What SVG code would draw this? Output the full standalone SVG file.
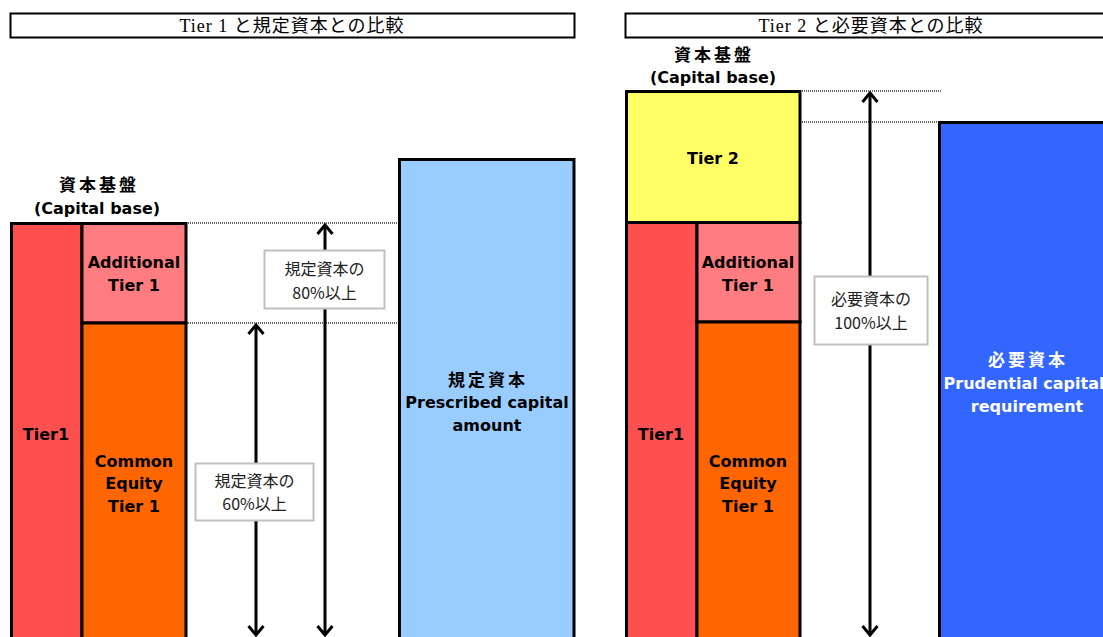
<svg xmlns="http://www.w3.org/2000/svg" width="1103" height="637" viewBox="0 0 1103 637">
<style>
.title{fill:#fff;stroke:#000;stroke-width:2}
.tt{font-family:"Liberation Serif","Noto Sans CJK JP",serif;font-size:18px;letter-spacing:1px;text-anchor:middle;fill:#000}
.blk{stroke:#000;stroke-width:3}
.b{font-family:"DejaVu Sans","Noto Sans CJK JP",sans-serif;font-weight:bold;font-size:16px;text-anchor:middle;fill:#000}
.jp{font-size:17px;letter-spacing:3px}
.w{fill:#fff}
.lbl{fill:#fff;stroke:#c0c0c0;stroke-width:2}
.lt{font-family:"Noto Sans CJK JP",sans-serif;font-size:16px;text-anchor:middle;fill:#222}
.dot{stroke:#333;stroke-width:1.5;stroke-dasharray:1 1}
.arr{stroke:#000;stroke-width:3;fill:none;marker-start:url(#ah);marker-end:url(#ah)}
</style>
<defs>
<marker id="ah" viewBox="-12 -10 14 20" markerWidth="14" markerHeight="20" markerUnits="userSpaceOnUse" refX="0" refY="0" orient="auto-start-reverse">
<path d="M-9,-7.5 L0,0 L-9,7.5" fill="none" stroke="#000" stroke-width="3"/>
</marker>
</defs>

<g id="title-left">
<rect class="title" x="10.5" y="13.5" width="564" height="24"/>
<text class="tt" x="292" y="32">Tier 1 と規定資本との比較</text>
</g>
<g id="title-right">
<rect class="title" x="625.5" y="13.5" width="492" height="24"/>
<text class="tt" x="871" y="32">Tier 2 と必要資本との比較</text>
</g>

<g id="capital-base-left">
<text class="b jp" x="99" y="191">資本基盤</text>
<text class="b" x="97" y="214">(Capital base)</text>
</g>
<g id="capital-base-right">
<text class="b jp" x="714" y="61">資本基盤</text>
<text class="b" x="713" y="83">(Capital base)</text>
</g>

<g id="connectors">
<line class="dot" x1="186" y1="223" x2="398" y2="223"/>
<line class="dot" x1="186" y1="323" x2="398" y2="323"/>
<line class="dot" x1="800" y1="91" x2="942" y2="91"/>
<line class="dot" x1="800" y1="122" x2="938" y2="122"/>
<line class="arr" x1="256" y1="635" x2="256" y2="325"/>
<line class="arr" x1="325" y1="635" x2="325" y2="225"/>
<line class="arr" x1="870" y1="635" x2="870" y2="93"/>
</g>

<g id="tier1-left">
<rect class="blk" x="11.5" y="223.5" width="70.5" height="420" fill="#FF5050"/>
<text class="b" x="46" y="440">Tier1</text>
</g>
<g id="at1-left">
<rect class="blk" x="82" y="223.5" width="104" height="99.5" fill="#FF7C80"/>
<text class="b" x="134" y="268">Additional</text>
<text class="b" x="134" y="291">Tier 1</text>
</g>
<g id="cet1-left">
<rect class="blk" x="82" y="323" width="104" height="320" fill="#FF6600"/>
<text class="b" x="134" y="467">Common</text>
<text class="b" x="134" y="489">Equity</text>
<text class="b" x="134" y="512">Tier 1</text>
</g>
<g id="prescribed">
<rect class="blk" x="399.5" y="159.5" width="174.5" height="480" fill="#99CCFF"/>
<text class="b jp" x="488" y="386">規定資本</text>
<text class="b" x="487" y="408">Prescribed capital</text>
<text class="b" x="487" y="431">amount</text>
</g>
<g id="label-80">
<rect class="lbl" x="264.5" y="250.5" width="120" height="58"/>
<text class="lt" x="324.5" y="275">規定資本の</text>
<text class="lt" x="324.5" y="299">80%以上</text>
</g>
<g id="label-60">
<rect class="lbl" x="195.5" y="463.5" width="118" height="57"/>
<text class="lt" x="254.5" y="487">規定資本の</text>
<text class="lt" x="254.5" y="510">60%以上</text>
</g>

<g id="tier2-right">
<rect class="blk" x="626.5" y="91.5" width="173.5" height="131" fill="#FFFF66"/>
<text class="b" x="713" y="164">Tier 2</text>
</g>
<g id="tier1-right">
<rect class="blk" x="626.5" y="222.5" width="70.5" height="420" fill="#FF5050"/>
<text class="b" x="661" y="440">Tier1</text>
</g>
<g id="at1-right">
<rect class="blk" x="697" y="222.5" width="103" height="99.5" fill="#FF7C80"/>
<text class="b" x="748" y="268">Additional</text>
<text class="b" x="748" y="291">Tier 1</text>
</g>
<g id="cet1-right">
<rect class="blk" x="697" y="322" width="103" height="320" fill="#FF6600"/>
<text class="b" x="748" y="467">Common</text>
<text class="b" x="748" y="489">Equity</text>
<text class="b" x="748" y="512">Tier 1</text>
</g>
<g id="prudential">
<rect class="blk" x="939.5" y="122.5" width="180" height="520" fill="#3366FF"/>
<text class="b w jp" x="1028" y="366">必要資本</text>
<text class="b w" x="1024" y="389">Prudential capital</text>
<text class="b w" x="1027" y="412">requirement</text>
</g>
<g id="label-100">
<rect class="lbl" x="814.5" y="276.5" width="113" height="68"/>
<text class="lt" x="871" y="305">必要資本の</text>
<text class="lt" x="871" y="329">100%以上</text>
</g>
</svg>
